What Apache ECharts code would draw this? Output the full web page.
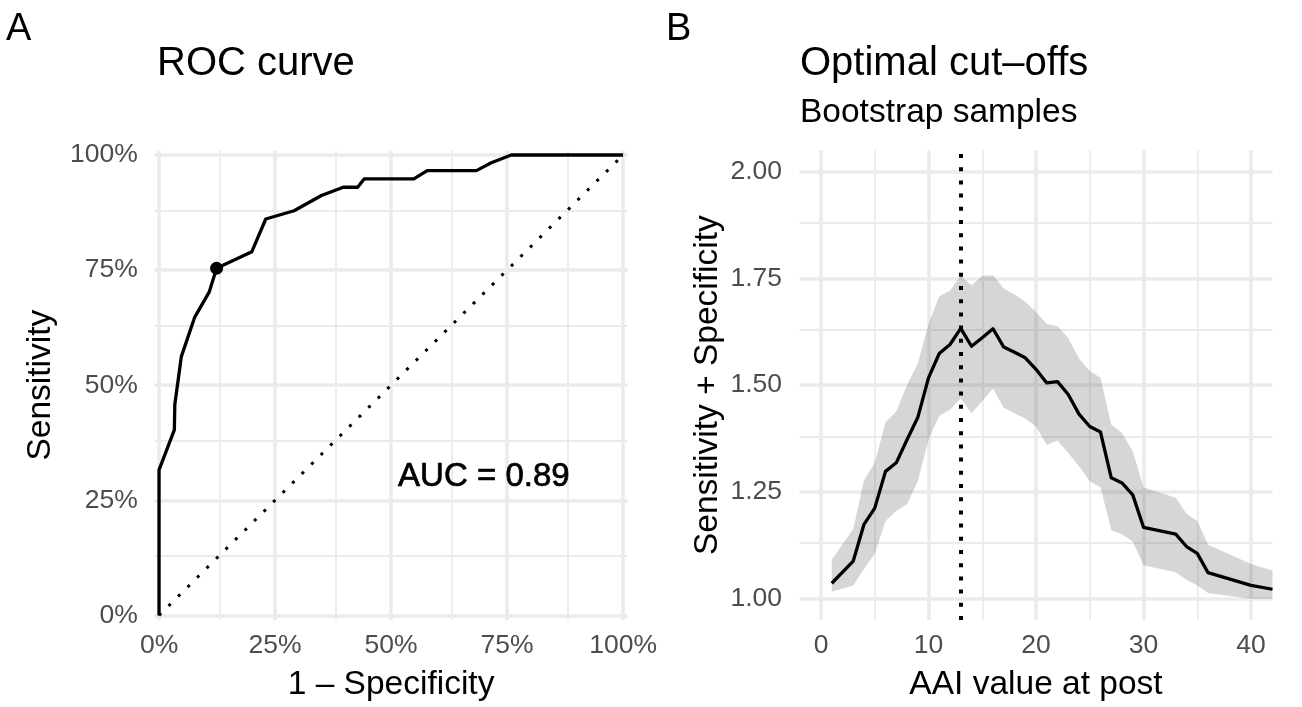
<!DOCTYPE html>
<html>
<head>
<meta charset="utf-8">
<script src="https://cdn.jsdelivr.net/npm/echarts@6/dist/echarts.min.js"></script>
<style>
html,body{margin:0;padding:0;background:#fff;}
#c{width:1302px;height:707px;}
</style>
</head>
<body>
<div id="c"></div>
<script>
// ---------- Panel A : ROC curve ----------
const rocFpr = [0, 0, 0.033, 0.034, 0.048, 0.077, 0.108, 0.124, 0.200, 0.230, 0.291, 0.350, 0.397, 0.428, 0.442, 0.549, 0.578, 0.684, 0.716, 0.759, 1.0];
const rocTpr = [0, 0.316, 0.403, 0.458, 0.562, 0.648, 0.702, 0.754, 0.790, 0.861, 0.879, 0.912, 0.930, 0.930, 0.948, 0.948, 0.966, 0.966, 0.983, 1.0, 1.0];
const optimalPoint = [0.124, 0.754];
const diagX = [0, 1];
const diagY = [0, 1];
const aucLabel = 'AUC = 0.89';
const aucPos = [0.7, 0.3];
const rocMajorTicks = [0, 0.25, 0.5, 0.75, 1];
const rocMinorTicks = [0.125, 0.375, 0.625, 0.875];

// ---------- Panel B : Optimal cut-offs ----------
const aaiValues = [1, 3, 4, 5, 6, 7, 8, 9, 10, 11, 12, 13, 14, 15, 16, 17, 18, 19, 20, 21, 22, 23, 24, 25, 26, 27, 28, 29, 30, 33, 34, 35, 36, 40, 42];
const sumMedian = [1.036, 1.088, 1.174, 1.212, 1.298, 1.318, 1.372, 1.424, 1.517, 1.574, 1.595, 1.633, 1.591, 1.611, 1.632, 1.589, 1.577, 1.564, 1.537, 1.505, 1.508, 1.478, 1.432, 1.403, 1.390, 1.283, 1.271, 1.243, 1.167, 1.151, 1.122, 1.106, 1.061, 1.031, 1.022];
const sumLower = [1.016, 1.031, 1.070, 1.105, 1.182, 1.205, 1.221, 1.275, 1.372, 1.428, 1.442, 1.469, 1.434, 1.463, 1.492, 1.447, 1.434, 1.422, 1.403, 1.360, 1.370, 1.341, 1.310, 1.275, 1.261, 1.160, 1.151, 1.134, 1.078, 1.062, 1.044, 1.031, 1.013, 1.000, 1.000];
const sumUpper = [1.091, 1.163, 1.277, 1.318, 1.413, 1.438, 1.500, 1.550, 1.643, 1.708, 1.721, 1.756, 1.733, 1.756, 1.757, 1.726, 1.712, 1.695, 1.671, 1.643, 1.638, 1.610, 1.562, 1.533, 1.517, 1.407, 1.388, 1.345, 1.260, 1.236, 1.199, 1.182, 1.126, 1.081, 1.066];
const optimalCutoff = 13;
const cutXMajorTicks = [0, 10, 20, 30, 40];
const cutXMinorTicks = [5, 15, 25, 35];
const cutYMajorTicks = [1.00, 1.25, 1.50, 1.75, 2.00];
const cutYMinorTicks = [1.125, 1.375, 1.625, 1.875];

const FONT = '"Liberation Sans", Arial, Helvetica, sans-serif';
const GRID_COL = '#EBEBEB';
const MAJOR_W = 3.6, MINOR_W = 1.8;

function gridLines(xMaj, xMin, yMaj, yMin) {
  const d = [];
  xMin.forEach(v => d.push({xAxis: v, lineStyle: {width: MINOR_W}}));
  yMin.forEach(v => d.push({yAxis: v, lineStyle: {width: MINOR_W}}));
  xMaj.forEach(v => d.push({xAxis: v, lineStyle: {width: MAJOR_W}}));
  yMaj.forEach(v => d.push({yAxis: v, lineStyle: {width: MAJOR_W}}));
  return {
    silent: true, symbol: ['none', 'none'], label: {show: false}, z: 0,
    animation: false,
    lineStyle: {color: GRID_COL, type: 'solid', cap: 'butt'},
    emphasis: {disabled: true},
    data: d
  };
}

const zip = (a, b) => a.map((v, i) => [v, b[i]]);

const axisCommon = {
  axisLine: {show: false}, axisTick: {show: false}, splitLine: {show: false},
  nameLocation: 'middle',
  nameTextStyle: {fontFamily: FONT, fontSize: 33.5, color: '#000'}
};
const labelCommon = {fontFamily: FONT, fontSize: 26.5, color: '#4D4D4D', showMinLabel: true, showMaxLabel: true};

// band polygon: drawn once through the axis scale (api.coord)
function renderBand(params, api) {
  if (params.dataIndex !== 0) return null;
  const pts = [];
  for (let i = 0; i < aaiValues.length; i++) pts.push(api.coord([aaiValues[i], sumUpper[i]]));
  for (let i = aaiValues.length - 1; i >= 0; i--) pts.push(api.coord([aaiValues[i], sumLower[i]]));
  return {
    type: 'polygon',
    shape: {points: pts},
    style: {fill: 'rgba(51,51,51,0.2)', stroke: 'none'},
    silent: true
  };
}

const chart = echarts.init(document.getElementById('c'), null, {renderer: 'canvas'});
chart.setOption({
  animation: false,
  backgroundColor: '#fff',
  grid: [
    {left: 154.4, top: 150.4, width: 473.3, height: 473.3},
    {left: 799.5, top: 150.2, width: 473, height: 473}
  ],
  xAxis: [
    Object.assign({}, axisCommon, {
      type: 'value', gridIndex: 0, min: -0.01, max: 1.01,
      name: '1 \u2013 Specificity', nameGap: 48,
      axisLabel: Object.assign({}, labelCommon, {margin: 12, customValues: rocMajorTicks,
        formatter: v => Math.round(v * 100) + '%'})
    }),
    Object.assign({}, axisCommon, {
      type: 'value', gridIndex: 1, min: -2, max: 42,
      name: 'AAI value at post', nameGap: 48,
      axisLabel: Object.assign({}, labelCommon, {margin: 12, customValues: cutXMajorTicks,
        formatter: v => String(v)})
    })
  ],
  yAxis: [
    Object.assign({}, axisCommon, {
      type: 'value', gridIndex: 0, min: -0.01, max: 1.01,
      name: 'Sensitivity', nameGap: 97, nameRotate: 90,
      axisLabel: Object.assign({}, labelCommon, {margin: 16.5, customValues: rocMajorTicks,
        formatter: v => Math.round(v * 100) + '%'})
    }),
    Object.assign({}, axisCommon, {
      type: 'value', gridIndex: 1, min: 0.95, max: 2.05,
      name: 'Sensitivity + Specificity', nameGap: 75, nameRotate: 90,
      axisLabel: Object.assign({}, labelCommon, {margin: 17.5, customValues: cutYMajorTicks,
        formatter: v => v.toFixed(2)})
    })
  ],
  graphic: [
    {type: 'text', left: 6, top: 10.8, silent: true,
      style: {text: 'A', font: '38px ' + FONT, fill: '#000'}},
    {type: 'text', left: 666, top: 10.8, silent: true,
      style: {text: 'B', font: '38px ' + FONT, fill: '#000'}},
    {type: 'text', left: 157, top: 43.6, silent: true,
      style: {text: 'ROC curve', font: '40px ' + FONT, fill: '#000'}},
    {type: 'text', left: 800, top: 43.6, silent: true,
      style: {text: 'Optimal cut\u2013offs', font: '40px ' + FONT, fill: '#000'}},
    {type: 'text', left: 800, top: 95.3, silent: true,
      style: {text: 'Bootstrap samples', font: '33.5px ' + FONT, fill: '#000'}}
  ],
  series: [
    // gridlines panel A
    {type: 'line', xAxisIndex: 0, yAxisIndex: 0, data: [], z: 1, silent: true,
      markLine: gridLines(rocMajorTicks, rocMinorTicks, rocMajorTicks, rocMinorTicks)},
    // gridlines panel B
    {type: 'line', xAxisIndex: 1, yAxisIndex: 1, data: [], z: 1, silent: true,
      markLine: gridLines(cutXMajorTicks, cutXMinorTicks, cutYMajorTicks, cutYMinorTicks)},
    // diagonal reference
    {type: 'line', xAxisIndex: 0, yAxisIndex: 0, data: zip(diagX, diagY), z: 3,
      symbol: 'none', silent: true,
      lineStyle: {color: '#000', width: 3, type: [3, 10.4], cap: 'butt'}},
    // ROC curve
    {type: 'line', xAxisIndex: 0, yAxisIndex: 0, data: zip(rocFpr, rocTpr), z: 4,
      symbol: 'none', silent: true,
      lineStyle: {color: '#000', width: 3.3, join: 'round', cap: 'butt'}},
    // optimal point
    {type: 'scatter', xAxisIndex: 0, yAxisIndex: 0, data: [optimalPoint], z: 5,
      symbol: 'circle', symbolSize: 13, silent: true, itemStyle: {color: '#000', opacity: 1}},
    // AUC annotation
    {type: 'scatter', xAxisIndex: 0, yAxisIndex: 0, data: [aucPos], z: 6,
      symbolSize: 0, silent: true, itemStyle: {opacity: 1},
      label: {show: true, position: 'inside', formatter: aucLabel, fontFamily: FONT,
        fontSize: 33, color: '#000', opacity: 1, textBorderColor: '#000', textBorderWidth: 0.7}},
    // bootstrap band
    {type: 'custom', xAxisIndex: 1, yAxisIndex: 1, z: 2, silent: true,
      data: aaiValues.map((x, i) => [x, sumLower[i], sumUpper[i]]),
      encode: {x: 0, y: [1, 2]},
      renderItem: renderBand},
    // median line
    {type: 'line', xAxisIndex: 1, yAxisIndex: 1, data: zip(aaiValues, sumMedian), z: 4,
      symbol: 'none', silent: true,
      lineStyle: {color: '#000', width: 3.3, join: 'round', cap: 'butt'}},
    // optimal cut-off vertical line
    {type: 'line', xAxisIndex: 1, yAxisIndex: 1, data: [], z: 5, silent: true,
      markLine: {silent: true, symbol: ['none', 'none'], label: {show: false}, z: 5,
        animation: false,
        lineStyle: {color: '#000', width: 4, type: [4, 9.2], cap: 'butt'},
        data: [{xAxis: optimalCutoff}]}}
  ]
});
</script>
</body>
</html>
